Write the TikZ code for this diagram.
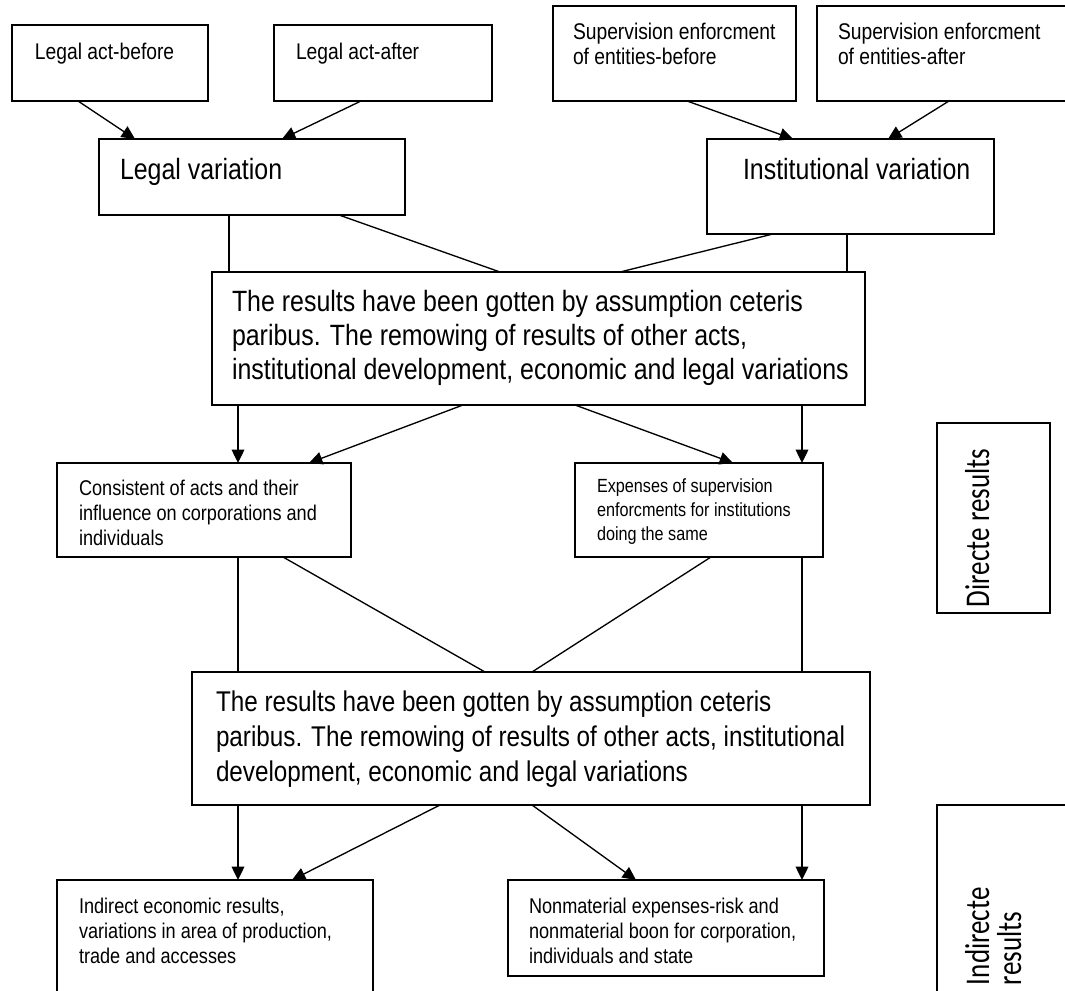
\documentclass[tikz,border=0pt]{standalone}
\usepackage{fontspec}
\setmainfont{Liberation Sans}[FakeStretch=0.85]
\newfontfamily\calfont{Carlito}[FakeStretch=0.78]
\usetikzlibrary{arrows.meta,fit,calc}
\newcommand\fbig{\fontsize{22}{25.5}\selectfont}
\newcommand\fbigb{\fontsize{21.4}{26.25}\selectfont}
\newcommand\fsmall{\fontsize{17}{18.75}\selectfont}
\newcommand\fmid{\fontsize{16}{19}\selectfont}
\newcommand\fexp{\fontsize{14.3}{18}\selectfont}
\newcommand\tlines[2]{\parbox[t]{30cm}{#1\raggedright #2}}
\tikzset{
  box/.style={draw, line width=1.25pt, inner sep=0pt, outer sep=0pt},
  conn/.style={line width=1pt},
  arr/.style={conn, -{Triangle[length=10pt,width=9.5pt]}},
  txt/.style={anchor=base west, inner sep=0pt, outer sep=0pt},
}
\begin{document}
\begin{tikzpicture}[x=0.75pt,y=-0.75pt]
\clip (0,0) rectangle (1065,991);
\fill[white] (0,0) rectangle (1065,991);
% boxes
\node[box, fit={(12,25) (208,101)}] (lb) {};
\node[box, fit={(274,25) (492,101)}] (la) {};
\node[box, fit={(553,6) (796,101)}] (sb) {};
\node[box, fit={(817,6) (1075,101)}] (sa) {};
\node[box, fit={(99,139) (405,215)}] (lv) {};
\node[box, fit={(707,139) (994,234)}] (iv) {};
\node[box, fit={(212,272) (865,405)}] (b1) {};
\node[box, fit={(57,463) (351,557)}] (co) {};
\node[box, fit={(575,463) (823,557)}] (ex) {};
\node[box, fit={(937,423) (1050,613)}] (dr) {};
\node[box, fit={(192,672) (870,805)}] (b2) {};
\node[box, fit={(57,880) (373,1000)}] (in) {};
\node[box, fit={(508,880) (824,976)}] (nm) {};
\node[box, fit={(937,805) (1075,1000)}] (ir) {};
% texts
\node[txt] (tlb) at ($(lb.north west)+(23,35)$) {\fsmall Legal act-before};
\node[txt] (tla) at ($(la.north west)+(22,35)$) {\fsmall Legal act-after};
\node[txt] (tsb) at ($(sb.north west)+(20,34)$) {\tlines{\fsmall}{Supervision enforcment\\of entities-before}};
\node[txt] (tsa) at ($(sa.north west)+(21,34)$) {\tlines{\fsmall}{Supervision enforcment\\of entities-after}};
\node[txt] (tlv) at ($(lv.north west)+(21,41)$) {\fbig Legal variation};
\node[txt] (tiv) at ($(iv.north west)+(36,41)$) {\fbig Institutional variation};
\node[txt] (tb1) at ($(b1.north west)+(20,40)$) {\tlines{\fbig}{The results have been gotten by assumption ceteris\\paribus. The remowing of results of other acts,\\institutional development, economic and legal variations}};
\node[txt] (tco) at ($(co.north west)+(22,32)$) {\tlines{\fmid}{Consistent of acts and their\\influence on corporations and\\individuals}};
\node[txt] (tex) at ($(ex.north west)+(22,30)$) {\tlines{\fexp}{Expenses of supervision\\enforcments for institutions\\doing the same}};
\node[txt] (tb2) at ($(b2.north west)+(24,39)$) {\tlines{\fbigb}{The results have been gotten by assumption ceteris\\paribus. The remowing of results of other acts, institutional\\development, economic and legal variations}};
\node[txt] (tin) at ($(in.north west)+(22,33)$) {\tlines{\fmid}{Indirect economic results,\\variations in area of production,\\trade and accesses}};
\node[txt] (tnm) at ($(nm.north west)+(21,33)$) {\tlines{\fmid}{Nonmaterial expenses-risk and\\nonmaterial boon for corporation,\\individuals and state}};
\node[anchor=base, rotate=90, inner sep=0pt] (tdr) at (989,528) {\calfont\fontsize{26}{24}\selectfont Directe results};
\node[txt, rotate=90] (tir) at (989,985) {\tlines{\calfont\fontsize{26}{24}\selectfont}{Indirecte\\results}};
% connectors
\draw[arr] ($(lb.south west)+(66,0)$) -- ($(lv.north west)+(36,0)$);
\draw[arr] ($(la.south west)+(87,0)$) -- ($(lv.north west)+(183,0)$);
\draw[arr] ($(sb.south west)+(134,0)$) -- ($(iv.north west)+(86,0)$);
\draw[arr] ($(sa.south west)+(132,0)$) -- ($(iv.north west)+(181,0)$);
\draw[conn] ($(lv.south west)+(130,0)$) -- ($(b1.north west)+(17,0)$);
\draw[conn] ($(lv.south west)+(240,0)$) -- ($(b1.north west)+(288,0)$);
\draw[conn] ($(iv.south west)+(66,0)$) -- ($(b1.north west)+(408,0)$);
\draw[conn] ($(iv.south west)+(140,0)$) -- ($(b1.north west)+(635,0)$);
\draw[arr] ($(b1.south west)+(26,0)$) -- ($(co.north west)+(181,0)$);
\draw[arr] ($(b1.south west)+(251,0)$) -- ($(co.north west)+(252,0)$);
\draw[arr] ($(b1.south west)+(363,0)$) -- ($(ex.north west)+(158,0)$);
\draw[arr] ($(b1.south west)+(590,0)$) -- ($(ex.north west)+(227,0)$);
\draw[conn] ($(co.south west)+(181,0)$) -- ($(b2.north west)+(46,0)$);
\draw[conn] ($(co.south west)+(226,0)$) -- ($(b2.north west)+(293,0)$);
\draw[conn] ($(ex.south west)+(136,0)$) -- ($(b2.north west)+(340,0)$);
\draw[conn] ($(ex.south west)+(227,0)$) -- ($(b2.north west)+(610,0)$);
\draw[arr] ($(b2.south west)+(46,0)$) -- ($(in.north west)+(181,0)$);
\draw[arr] ($(b2.south west)+(248,0)$) -- ($(in.north west)+(235,0)$);
\draw[arr] ($(b2.south west)+(340,0)$) -- ($(nm.north west)+(128,0)$);
\draw[arr] ($(b2.south west)+(610,0)$) -- ($(nm.north west)+(294,0)$);
\end{tikzpicture}
\end{document}
